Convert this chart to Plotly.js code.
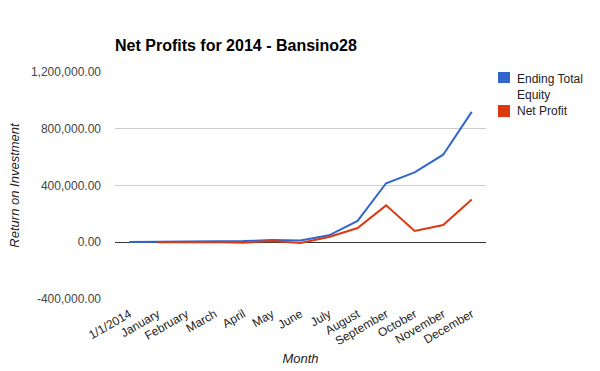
<!DOCTYPE html>
<html>
<head>
<meta charset="utf-8">
<script src="https://cdn.plot.ly/plotly-3.0.1.min.js"></script>
<style>html,body{margin:0;padding:0;background:#fff;}#chart{width:600px;height:371px;}</style>
</head>
<body>
<div id="chart"></div>
<script>
var months = ["1/1/2014","January","February","March","April","May","June","July","August","September","October","November","December"];
var endingTotalEquity = [1000, 2000, 6000, 9000, 8000, 15000, 12000, 49000, 150000, 416000, 493000, 617000, 919000];
var netProfit = [null, 0, 3000, 2000, -3000, 8000, -5000, 37000, 100000, 260000, 79000, 121000, 302000];
var seriesNames = ["Ending Total Equity", "Net Profit"];
var yTicks = [-400000, 0, 400000, 800000, 1200000];
var yTickText = ["-400,000.00", "0.00", "400,000.00", "800,000.00", "1,200,000.00"];
var colors = ["#3366cc", "#dc3912"];

var font = "Arial, 'Liberation Sans', sans-serif";

var traces = [
  {x: months, y: endingTotalEquity, name: seriesNames[0], type: "scatter", mode: "lines",
   line: {color: colors[0], width: 2}, connectgaps: false},
  {x: months, y: netProfit, name: seriesNames[1], type: "scatter", mode: "lines",
   line: {color: colors[1], width: 2}, connectgaps: false}
];

var L = 115, R = 486, T = 72, B = 299;
function px(x){ return (x - L) / (R - L); }
function py(y){ return (B - y) / (B - T); }

var layout = {
  width: 600, height: 371,
  margin: {l: L, r: 600 - R, t: T, b: 371 - B, pad: 0},
  paper_bgcolor: "#fff", plot_bgcolor: "#fff",
  showlegend: false,
  font: {family: font, size: 12, color: "#444"},
  title: {text: "<b>Net Profits for 2014 - Bansino28</b>", font: {family: font, size: 16, color: "#000"},
          x: px(115), xref: "paper", xanchor: "left", y: 1 - 45/371, yanchor: "middle"},
  xaxis: {type: "category", range: [-0.5, 12.5], showgrid: false, zeroline: false, showline: false,
          ticks: "", tickangle: -30, ticklabelstandoff: 5, tickfont: {family: font, size: 12, color: "#222"},
          title: {text: "<i>Month</i>", font: {family: font, size: 13, color: "#222"}, standoff: 6},
          fixedrange: true},
  yaxis: {range: [-400000, 1200000], tickvals: yTicks, ticktext: yTickText, showgrid: true,
          gridcolor: "#cccccc", gridwidth: 1, zeroline: true, zerolinecolor: "#333333", zerolinewidth: 1,
          showline: false, ticks: "", ticklabelstandoff: 13,
          tickfont: {family: font, size: 12, color: "#444"},
          title: {text: "<i>Return on Investment</i>", font: {family: font, size: 13, color: "#222"}, standoff: 8},
          fixedrange: true},
  shapes: [
    {type: "rect", xref: "paper", yref: "paper", x0: px(498), x1: px(510), y0: py(72), y1: py(83),
     fillcolor: colors[0], line: {width: 0}},
    {type: "rect", xref: "paper", yref: "paper", x0: px(498), x1: px(510), y0: py(105), y1: py(117),
     fillcolor: colors[1], line: {width: 0}}
  ],
  annotations: [
    {xref: "paper", yref: "paper", x: px(515), y: py(70), xanchor: "left", yanchor: "top", align: "left",
     text: "Ending Total<br>Equity", showarrow: false, font: {family: font, size: 12, color: "#222"}},
    {xref: "paper", yref: "paper", x: px(515), y: py(111), xanchor: "left", yanchor: "middle", align: "left",
     text: seriesNames[1], showarrow: false, font: {family: font, size: 12, color: "#222"}}
  ]
};

Plotly.newPlot("chart", traces, layout, {staticPlot: true, displayModeBar: false});
</script>
</body>
</html>
